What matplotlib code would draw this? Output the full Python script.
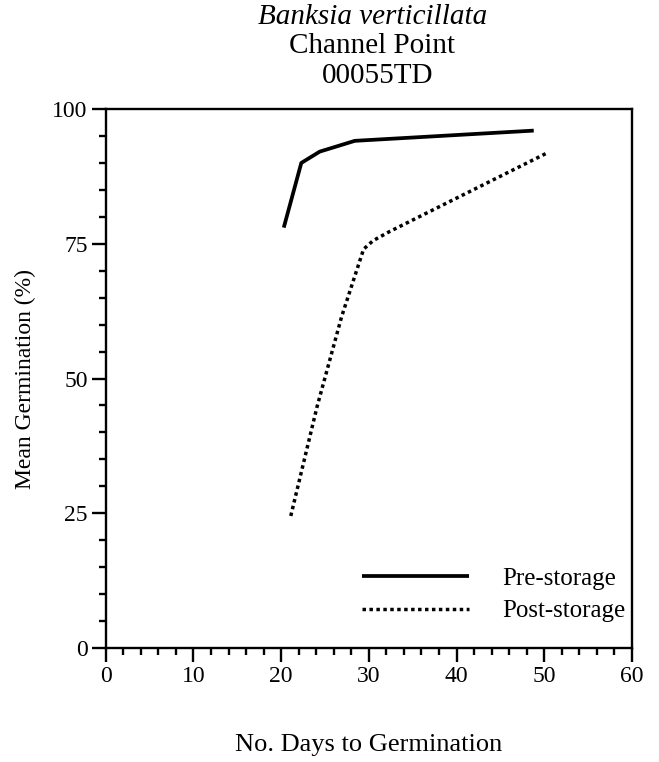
import matplotlib
matplotlib.use("Agg")
import matplotlib.pyplot as plt
from matplotlib.ticker import MultipleLocator

# Data
pre_days = [20.3, 22.3, 24.4, 28.4, 48.8]
pre_germ = [78.0, 90.0, 92.1, 94.1, 96.0]
post_days = [21.1, 24.1, 26.9, 29.4, 30.5, 32.4, 50.5]
post_germ = [24.5, 44.8, 61.5, 74.0, 75.6, 77.3, 92.0]
series_labels = ["Pre-storage", "Post-storage"]
x_ticks = [0, 10, 20, 30, 40, 50, 60]
y_ticks = [0, 25, 50, 75, 100]

plt.rcParams['font.family'] = ['Liberation Serif', 'DejaVu Serif']

fig = plt.figure(figsize=(6.59, 7.62), dpi=100)
ax = fig.add_axes([0.1604, 0.1496, 0.7986, 0.7073])

ax.plot(pre_days, pre_germ, color='black', lw=2.7, solid_capstyle='butt',
        label=series_labels[0])
ax.plot(post_days, post_germ, color='black', lw=2.5, linestyle=(0, (1, 1)),
        dash_capstyle='butt', label=series_labels[1])

ax.set_xlim(0, 60)
ax.set_ylim(0, 100)
ax.set_xticks(x_ticks)
ax.set_yticks(y_ticks)
ax.xaxis.set_minor_locator(MultipleLocator(2))
ax.yaxis.set_minor_locator(MultipleLocator(5))
ax.tick_params(which='major', direction='out', length=10, width=1.7,
               labelsize=17, pad=3)
ax.tick_params(which='minor', direction='out', length=5, width=1.7)
for s in ax.spines.values():
    s.set_linewidth(1.7)

ax.set_xlabel("No. Days to Germination", fontsize=19, labelpad=34)
ax.set_ylabel("Mean Germination (%)", fontsize=17, labelpad=12)

leg = ax.legend(loc='lower right', bbox_to_anchor=(1.02, 0.015), frameon=False,
                fontsize=18, handlelength=4.3, handletextpad=1.3,
                labelspacing=0.4, borderpad=0.2)

fig.text(0.565, 0.978, "Banksia verticillata", ha='center', va='center',
         fontsize=21, style='italic')
fig.text(0.565, 0.939, "Channel Point", ha='center', va='center', fontsize=21)
fig.text(0.573, 0.900, "00055TD", ha='center', va='center', fontsize=21)

fig.savefig("out.png", dpi=100)
